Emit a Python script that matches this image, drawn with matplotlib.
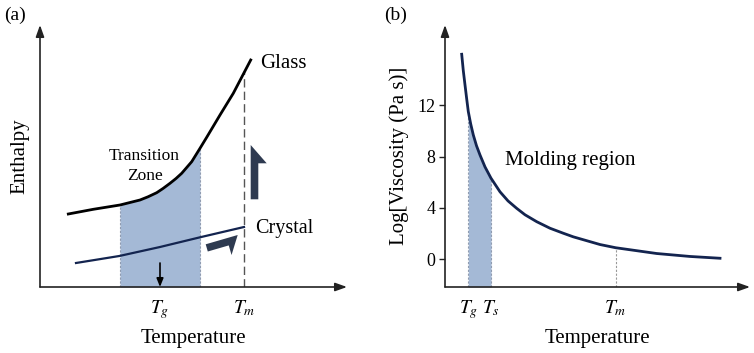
import matplotlib.pyplot as plt
from matplotlib.patches import FancyArrow

plt.rcParams["font.family"] = ["Liberation Serif", "DejaVu Serif"]
plt.rcParams["mathtext.fontset"] = "stix"

# === panel (a): enthalpy vs temperature (schematic units) ===
glass_x = [28.3, 53.3, 80, 100, 108, 116.7, 123, 130, 136, 141.7, 151.7, 160, 166.7, 180, 193.3, 210.7]
glass_y = [73, 77.7, 82, 87, 90.2, 94.3, 98.5, 103.7, 108.5, 113.7, 125.3, 138.7, 149.7, 172, 193.7, 227]
crystal_x = [36, 79.3, 120, 160, 204]
crystal_y = [24, 31, 40, 49.7, 60]
zone_lo, zone_hi = 80, 160
tg_a, tm_a = 120, 204
ticks_a = ["$T_g$", "$T_m$"]

# === panel (b): log viscosity vs temperature ===
visc_x = [16.7, 18.3, 20, 21.7, 23.3, 25.7, 28.3, 31.5, 35, 40, 46, 55, 63, 71.7, 80,
          91.7, 105, 118.3, 128.3, 155, 170.7, 211.7, 245, 275]
visc_y = [15.98, 14.7, 13.59, 12.5, 11.51, 10.55, 9.69, 8.85, 8.13, 7.2, 6.32, 5.26, 4.55,
          3.97, 3.47, 2.93, 2.42, 2.03, 1.75, 1.15, 0.90, 0.45, 0.22, 0.08]
tg_b, ts_b, tm_b = 23.3, 46, 170.7
ticks_b = ["$T_g$", "$T_s$", "$T_m$"]
yticks_b = [0, 4, 8, 12]

NAVY = "#13244f"
FILL = "#a4b9d6"
ARROW = "#2e3a50"

fig = plt.figure(figsize=(7.54, 3.53), dpi=100)
W, H = 754, 353


def axis_arrows(ax):
    for s in ax.spines.values():
        s.set_visible(False)
    style = dict(arrowstyle="-|>,head_length=0.7,head_width=0.25", color="#222222",
                 lw=1.2, shrinkA=0, shrinkB=0)
    ax.annotate("", xy=(1, 0), xytext=(0, 0), xycoords="axes fraction", arrowprops=style)
    ax.annotate("", xy=(0, 1), xytext=(0, 0), xycoords="axes fraction", arrowprops=style)


# ---- (a)
ax1 = fig.add_axes([40 / W, 66 / H, 307 / W, 262 / H])
ax1.set_xlim(0, 307)
ax1.set_ylim(0, 262)
axis_arrows(ax1)

mask = [zone_lo <= x <= zone_hi for x in glass_x]
ax1.fill_between(glass_x, 0, glass_y, where=mask, color=FILL, lw=0)
for xv in (zone_lo, zone_hi):
    i = glass_x.index(xv)
    ax1.plot([xv, xv], [0, glass_y[i]], color="#8f9bb0", lw=0.8, ls=(0, (2, 1.5)))
ax1.plot([tm_a, tm_a], [0, 216], color="#555555", lw=1.0, ls=(0, (6, 3)))
ax1.plot(glass_x, glass_y, color="black", lw=2, solid_joinstyle="round")
ax1.plot(crystal_x, crystal_y, color=NAVY, lw=1.6)

ax1.annotate("", xy=(tg_a, 0), xytext=(tg_a, 24),
             arrowprops=dict(arrowstyle="-|>,head_length=0.5,head_width=0.2", color="black",
                             lw=1.2, shrinkA=0, shrinkB=0))
ax1.add_patch(FancyArrow(210.7, 87.7, 0, 54.3, width=15.2, head_width=32, head_length=18.3,
                         shape="left", length_includes_head=True, color=ARROW, lw=0))
ax1.add_patch(FancyArrow(165.7, 42.7, 32, 9.3, width=15, head_width=35, head_length=11.5,
                         shape="left", length_includes_head=True, color=ARROW, lw=0))

ax1.text(220, 224, "Glass", fontsize=15, ha="left", va="center")
ax1.text(215, 58, "Crystal", fontsize=14.5, ha="left", va="center")
ax1.text(104.5, 121, "Transition\nZone", fontsize=12.5, ha="center", va="center",
         linespacing=1.25)

ax1.set_xticks([tg_a, tm_a])
ax1.set_xticklabels(ticks_a, fontsize=14)
ax1.tick_params(axis="x", length=0, pad=8)
ax1.set_yticks([])
ax1.set_xlabel("Temperature", fontsize=15, labelpad=6)
ax1.set_ylabel("Enthalpy", fontsize=15, labelpad=8)
fig.text(4 / W, 1 - 15 / H, "(a)", fontsize=14, va="center")

# ---- (b)
ax2 = fig.add_axes([445 / W, 66 / H, 305 / W, 262 / H])
ax2.set_xlim(0, 305)
ax2.set_ylim(-2.16, 18.26)
axis_arrows(ax2)

bmask = [tg_b <= x <= ts_b for x in visc_x]
ax2.fill_between(visc_x, -2.16, visc_y, where=bmask, color=FILL, lw=0)
for xv in (tg_b, ts_b):
    i = visc_x.index(xv)
    ax2.plot([xv, xv], [-2.16, visc_y[i]], color="#8f9bb0", lw=0.8, ls=(0, (2, 1.5)))
ax2.plot([tm_b, tm_b], [-2.16, visc_y[visc_x.index(tm_b)]], color="#999999", lw=0.8,
         ls=(0, (2, 1.5)))
ax2.plot(visc_x, visc_y, color=NAVY, lw=2, solid_joinstyle="round")

ax2.text(60, 7.7, "Molding region", fontsize=15, ha="left", va="center")

ax2.set_xticks([tg_b, ts_b, tm_b])
ax2.set_xticklabels(ticks_b, fontsize=14)
ax2.tick_params(axis="x", length=0, pad=8)
ax2.set_yticks(yticks_b)
ax2.set_yticklabels([str(v) for v in yticks_b], fontsize=13)
ax2.tick_params(axis="y", length=4, width=1, color="#222222", pad=3)
ax2.set_xlabel("Temperature", fontsize=15, labelpad=6)
ax2.set_ylabel("Log[Viscosity (Pa s)]", fontsize=15, labelpad=6)
fig.text(384 / W, 1 - 15 / H, "(b)", fontsize=14, va="center")

fig.savefig("out.png", dpi=100)
